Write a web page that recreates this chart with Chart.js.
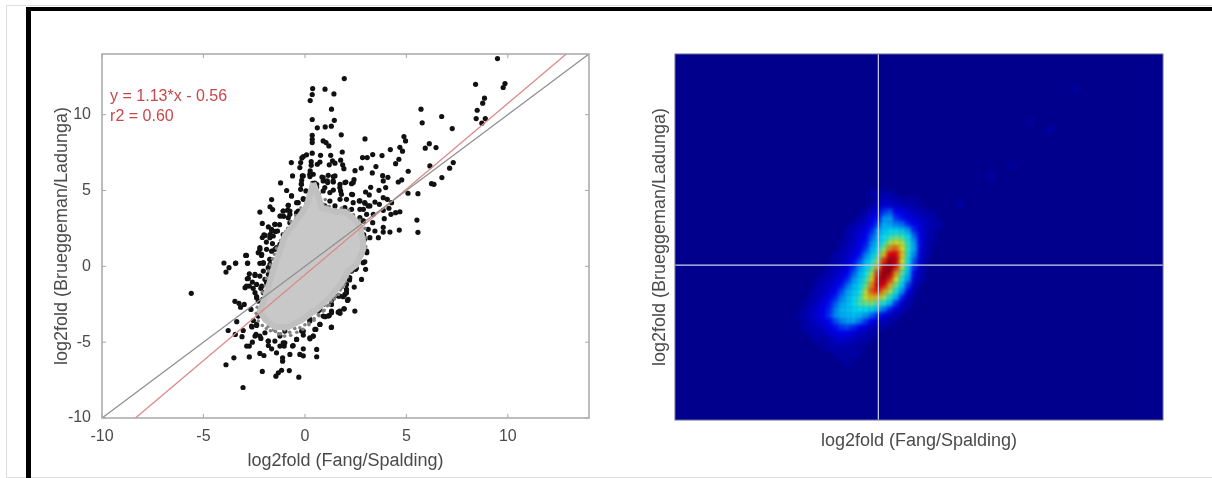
<!DOCTYPE html>
<html>
<head>
<meta charset="utf-8">
<title>log2fold comparison</title>
<script src="https://cdn.jsdelivr.net/npm/chart.js@4/dist/chart.umd.min.js"></script>
<style>
    html, body { margin: 0; padding: 0; background: #fff; width: 1212px; height: 478px; overflow: hidden; }
    canvas { position: absolute; filter: blur(0.7px); }
    #LeftPlot { left: 40px; top: 12px; }
    #RightPlot { left: 640px; top: 12px; }
    .rule { position: absolute; }
    #edgeTop { left: 6px; top: 5px; width: 1206px; height: 1px; background: #ddd; }
    #edgeLeft { left: 6px; top: 5px; width: 1px; height: 473px; background: #ddd; }
    #edgeBottom { left: 6px; top: 477px; width: 1206px; height: 1px; background: #ddd; }
    #barTop { left: 26px; top: 7px; width: 1186px; height: 4px; background: #000; }
    #barLeft { left: 26px; top: 7px; width: 5px; height: 471px; background: #000; }
</style>
</head>
<body>
<div class="rule" id="edgeTop"></div>
<div class="rule" id="edgeLeft"></div>
<div class="rule" id="edgeBottom"></div>
<div class="rule" id="barTop"></div>
<div class="rule" id="barLeft"></div>
<canvas id="LeftPlot" width="570" height="460"></canvas>
<canvas id="RightPlot" width="560" height="460"></canvas>
<script>
const tick_values = [-10, -5, 0, 5, 10];
const x_title = 'log2fold (Fang/Spalding)';
const y_title = 'log2fold (Brueggeman/Ladunga)';
const fit_labels = ['y = 1.13*x - 0.56', 'r2 = 0.60'];

const identity_x = [-10, 14];
const identity_y = [-10, 14];
const fit_x = [-8.35, 12.88];
const fit_y = [-10, 14];

// outliers
const outlier_x = [
    1.94, 0.38, 0.36, 0.26, 0.99, 1.43, 1.31, 0.36, 1.45, 0.61, 1.0, 1.30, 1.79, 0.36, 0.36, 0.36, 0.9, 1.04, 1.18, 1.84,
    0.36, 0.08, -0.08, -0.15, 0.77, 1.27, -0.67, -0.21, 0.74, 0.61, 0.31, 0.31, 1.36, 1.48, 1.2, 1.76, 1.86, 1.92, -0.25, 0.26,
    0.41, -0.61, -0.13, -0.16, 0.25, 0.84, 1.15, 1.4, -1.2, -0.18, 0.38, 0.58, 0.9, 1.1, 1.4, 1.73, 2.02, -0.9, -0.66, -0.21,
    0.05, 0.58, 0.9, 1.4, 1.76, -1.64, -1.72, -1.59, -2.22, -2.1, -1.2, -1.07, -0.82, -0.41, -0.08, -0.74, -0.33, 0.58, 0.9, 1.23,
    1.73, -1.48, -1.64, -2.02, -1.07, -0.74, -0.41, -1.72,
    9.49, 8.41, 9.86, 9.77, 8.85, 8.76, 8.49, 8.44, 8.89, 8.72, 5.72, 5.78, 6.74, 7.26, 2.96, 4.88, 4.96, 6.13, 5.93, 6.46,
    4.68, 4.81, 4.21, 3.8, 3.34, 2.84, 3.07, 4.63, 4.47, 3.5, 2.78, 2.47, 3.32, 5.09, 6.16, 7.31, 7.13, 6.75, 3.83, 4.09,
    2.42, 2.3, 3.86, 3.98, 3.24, 3.65, 4.6, 4.77, 6.24, 6.36, 5.08, 5.57, 2.35, 2.99, 3.17, 3.86, 4.06, 2.68, 2.96, 3.45,
    4.27, 3.67, 3.2, 4.14, 3.86, 4.68, 4.47, 4.24, 2.88, 3.37, 3.91, 5.52, 2.88, 3.34, 3.86, 4.19, 4.65, 5.57, 3.86, 3.45,
    3.2, 3.62,
    -5.6, -3.99, -3.74, -3.89, -3.41, -2.92, -2.82, -2.74, -2.46, -2.84, -2.59, -2.74, -2.95, -2.46, -2.38, -3.45, -3.25, -2.99, -3.17, -2.66,
    -2.22, -3.36, -2.54, -3.78, -3.04, -2.61, -3.43, -3.1, -2.38, -2.41, -2.17, -2.59, -2.74, -2.87, -1.8, -1.8, -1.64, -1.4, -1.23, -1.02,
    -1.07, -0.61, -0.41, -0.08, -0.25, -0.08, -0.74, -1.1, -1.1, -2.22, -2.02, -2.74, -3.5, -3.89, -2.1, -1.15, -1.31, -1.43, -0.77, -0.3,
    -3.05, 0.58, 0.58, 0.25, 0.41, 0.54, 0.74, 1.3, 0.99, 1.2, 1.64, 1.92, 1.73, 1.31, 2.1, 1.97, 2.05, 1.89, 1.64, 1.31,
    0.9, 0.74, 0.25, -0.16,
    -2.22, -2.13, -1.64, -1.72, -2.05, -2.22, -1.72, -2.05, -2.22, -1.8, -2.13, -1.89, -2.05, -1.72, -2.08, -2.3, -2.38, -1.4, -1.15,
    -2.1, -1.9, -1.6, -1.8, -1.45, -1.25, -1.05, -0.85, 2.4, 2.65, 2.9, 3.05, 2.95, 2.5, 2.2, 2.75,
    -0.66, -0.33, -0.08, -0.82, -1.07, -1.23, -0.74, -0.82, -0.41, -0.08, -1.48, -1.64, -1.35, -1.97, -1.73, -1.56, -1.23, -2.22, -1.89, -1.48,
    -2.3, -2.14, -1.73, -2.05, -1.4, -2.88, -2.83, -3.42, -1.81, 0.24, -0.08, -0.17, 0.9, 1.48, 1.12, 1.39, 0.98, 0.49, 0.66, 1.23,
    1.72, 1.97, 2.38, 2.3, 1.8, 2.05, 1.48, 1.97, 2.38, 2.71, 2.95, 3.12, 2.3, 2.71, 0.98, 0.49, 3.04, 2.71, 2.87, 3.12,
    2.95, 2.71, 3.04, 2.87, 2.46,
    -2.79, -2.46, -2.88, -2.55, -2.17, -1.97, -1.81, -2.05, -2.38, -2.3, -2.63, -2.38, -2.46, -2.22, -1.97, -1.81, -1.48, -1.23, -0.99, -0.99,
    -0.58, -0.41, -0.08, -0.08, 0.24, 0.41, 0.49, 0.74, 0.24, 0.9, 1.15, 1.31, 0.9, 0.66, 0.98, 1.39, 1.31, 1.72, 1.94, 1.72,
    2.05, 2.13, 2.43, 2.05, 2.21, 2.79, 2.46, 1.31, 2.3, 2.54, 2.99
];
const outlier_y = [
    12.38, 11.72, 11.33, 10.93, 11.68, 11.37, 10.36, 9.68, 9.63, 9.13, 9.19, 9.24, 8.67, 8.64, 8.38, 8.16, 8.27, 8.16, 7.94, 7.54,
    7.46, 7.35, 7.24, 7.15, 7.32, 7.32, 6.84, 6.84, 6.88, 6.73, 6.9, 6.66, 6.95, 6.8, 6.69, 7.0, 6.69, 6.44, 6.51, 6.29,
    6.07, 5.96, 5.96, 5.67, 5.92, 5.89, 6.0, 5.92, 5.5, 5.43, 5.47, 5.41, 5.63, 5.63, 5.56, 5.41, 5.56, 5.0, 4.64, 5.08,
    4.97, 5.19, 4.97, 5.03, 4.97, 4.4, 3.93, 3.74, 3.58, 2.83, 3.32, 3.65, 4.02, 4.2, 4.46, 3.43, 3.65, 4.42, 4.0, 4.3,
    4.42, 2.77, 2.33, 2.07, 2.1, 2.88, 3.1, 2.1,
    13.7, 12.0, 12.05, 11.79, 11.09, 10.76, 10.29, 9.74, 9.74, 9.44, 10.36, 9.46, 9.88, 9.08, 8.4, 8.56, 8.27, 8.09, 7.79, 7.83,
    7.85, 7.59, 7.7, 7.3, 7.37, 7.17, 7.17, 7.06, 6.77, 6.58, 6.47, 6.31, 6.16, 6.27, 6.62, 6.84, 6.47, 5.85, 5.98, 5.87,
    5.72, 5.45, 5.63, 5.19, 5.21, 5.01, 5.56, 5.7, 5.45, 5.41, 4.82, 4.79, 4.73, 4.9, 4.71, 4.53, 4.42, 4.31, 4.16, 4.24,
    4.2, 4.09, 3.98, 3.83, 3.69, 3.6, 3.54, 3.43, 3.76, 3.43, 3.14, 3.05, 3.0, 2.88, 2.57, 2.26, 2.39, 2.24, 2.26, 2.33,
    1.89, 1.89,
    -1.78, 0.22, -0.09, -0.38, 0.22, 0.72, 0.22, -0.49, -0.6, -0.82, -1.04, -1.3, -1.41, -1.74, -2.0, -2.31, -2.44, -2.51, -2.69, -2.84,
    -2.95, -3.65, -3.57, -4.23, -4.23, -4.0, -4.49, -4.64, -3.9, -4.49, -4.75, -5.0, -5.26, -5.26, -4.93, -5.22, -5.44, -5.7, -5.26, -5.26,
    -5.04, -5.26, -4.82, -5.44, -5.81, -5.9, -5.81, -6.03, -6.25, -5.74, -5.88, -5.97, -6.03, -6.49, -6.93, -6.85, -7.02, -7.24, -6.87, -7.31,
    -7.99, -5.48, -5.96, -4.78, -4.6, -4.16, -3.83, -4.03, -3.32, -3.24, -3.02, -2.8, -3.1, -2.95, -2.25, -1.85, -1.52, -2.0, -1.96, -2.25,
    -2.4, -2.84, -3.5, -4.27,
    1.23, 0.79, 1.0, 0.46, 0.2, 0.2, 0.13, -0.31, -0.64, -0.53, -1.3, -1.08, -1.74, -1.63, -2.18, -2.29, -1.19, 1.23, 1.45,
    1.9, 1.6, 1.5, 2.6, 2.3, 2.75, 3.3, 3.7, 1.3, 1.6, 2.1, 0.9, 0.3, -0.2, -0.9, 0.7,
    4.64, 4.2, 4.42, 4.02, 3.65, 3.32, 3.65, 3.21, 3.54, 3.43, 2.77, 2.44, 2.33, 2.04, 1.89, 2.0, 1.45, 1.12, 1.12, 1.12,
    0.9, 0.72, 0.46, 0.24, 0.46, 0.72, 0.2, 0.2, -0.09, 6.07, 5.96, 5.41, 5.85, 5.96, 5.52, 5.63, 5.19, 5.48, 4.75, 4.86,
    5.19, 5.52, 5.52, 4.75, 4.75, 4.42, 3.98, 3.87, 4.2, 4.31, 4.2, 3.98, 3.76, 3.76, 3.98, 3.98, 3.43, 3.21, 2.99, 2.44,
    1.78, 1.12, 1.01, 0.24, 0.13,
    -0.79, -0.53, -1.3, -1.45, -1.45, -0.86, -1.3, -2.29, -2.07, -3.28, -3.94, -3.83, -4.6, -4.6, -4.38, -4.93, -4.93, -4.6, -4.27, -5.04,
    -5.22, -4.82, -4.27, -4.53, -4.71, -4.6, -4.16, -3.83, -3.61, -3.28, -3.28, -3.06, -2.51, -2.95, -2.07, -2.07, -2.51, -2.95, -2.8, -1.96,
    -1.74, -2.18, -1.37, -1.19, -0.75, -0.86, -2.95, -4.0, -0.31, -0.09, -0.2
];

// speckled edge of the dense cloud
const rim_x = [
    -0.95, -0.7, -0.45, -0.2, 0.05, 0.25, 0.5, 0.75, 1.05, 1.35, 1.65, 1.95, 2.25, 2.55, 2.8, 2.95, 2.85, 2.65, 2.4, 2.25,
    2.15, 2.0, 1.85, 1.65, 1.45, 1.2, 0.95, 0.7, 0.45, 0.2, -0.1, -0.4, -0.7, -1.0, -1.3, -1.55, -1.8, -2.0, -2.15, -2.05,
    -1.9, -1.75, -1.65, -1.55, -1.45, -1.35, -1.25, -1.15, -1.05, -0.25, 0.15, 0.6, 1.0, 0.3, 0.42, 0.5,
    -1.6, -1.7, -1.8, -1.9, -1.95, -2.1, -2.15, -2.35, -2.4, -2.3, -2.1, -1.9, -1.7, -1.45, -1.2, -1.0, -0.75, -0.5, -0.25, 0,
    0.2, 0.45, 0.65, 0.9, 1.1, 1.3, 1.5, 1.75, 1.95, 2.1, 2.3, 2.55, 2.8, 3.0, 3.0, 2.95, 2.7, 2.4, 2.15, 1.8,
    1.5, 1.2, 0.9, 0.65, 0.55, 0.2, 0.05, -0.15, -0.4, -0.6, -0.85, -1.05, -1.2, -1.4, -1.5
];
const rim_y = [
    2.3, 2.95, 3.35, 3.85, 4.2, 4.5, 4.3, 4.1, 3.95, 3.7, 3.45, 3.2, 3.0, 2.85, 2.4, 1.7, 1.2, 0.8, 0.4, 0.0,
    -0.45, -1.0, -1.4, -1.85, -2.15, -2.55, -2.9, -3.25, -3.55, -3.85, -4.15, -4.35, -4.55, -4.6, -4.45, -4.2, -3.95, -3.5, -2.95, -2.5,
    -2.0, -1.55, -1.05, -0.6, -0.15, 0.35, 0.9, 1.35, 1.85, 3.05, 3.6, 4.9, 4.4, 5.1, 5.4, 4.75,
    0.5, 0.1, -0.3, -0.8, -1.3, -1.7, -2.2, -2.7, -3.1, -3.6, -3.9, -4.1, -4.25, -4.3, -4.45, -4.2, -4.35, -4.1, -4.05, -3.85,
    -3.75, -3.45, -3.2, -2.95, -2.6, -2.3, -1.95, -1.55, -1.2, -0.7, -0.3, 0.2, 0.75, 1.3, 1.9, 2.5, 3.05, 3.4, 3.7, 3.85,
    3.75, 3.95, 4.1, 4.4, 4.9, 4.7, 4.2, 3.75, 3.3, 2.9, 2.5, 2.15, 1.7, 1.2, 0.8
];

// outline of the solid grey cloud
const cloud_x = [0.41, 0.7, 0.82, 1.5, 1.97, 2.4, 2.71, 2.87, 2.87, 2.54, 2.13, 1.8, 1.23, 0.57, -0.17, -0.82, -1.48, -1.97, -2.22, -1.97, -1.73, -1.48, -1.32, -0.99, -0.49, 0.08, 0.41];
const cloud_y = [5.5, 4.5, 3.85, 3.6, 3.6, 3.15, 2.66, 1.6, 1.12, 0.1, -0.3, -1.1, -2.05, -2.85, -3.55, -4.0, -4.0, -3.5, -2.95, -2.07, -1.0, 0.13, 0.68, 2.0, 2.88, 3.98, 5.5];

// density image, levels 0-100 on the jet scale
const heat_x = [
    -4.5, -4.2, -3.9, -3.6, -3.3, -3.0, -2.7, -2.4, -2.1, -1.8, -1.5, -1.2, -0.9, -0.6, -0.3, 0,
    0.3, 0.6, 0.9, 1.2, 1.5, 1.8, 2.1, 2.4, 2.7, 3.0, 3.3, 3.6, 3.9, 4.2, 4.5
];
const heat_y = [
    4.8, 4.4, 4.0, 3.6, 3.2, 2.8, 2.4, 2.0, 1.6, 1.2, 0.8, 0.4, 0, -0.4, -0.8, -1.2, -1.6,
    -2.0, -2.4, -2.8, -3.2, -3.6, -4.0, -4.4, -4.8, -5.2, -5.6, -6.0, -6.4
];
// index into heat_x of the first cell in every row
const heat_start = [14, 15, 14, 13, 12, 11, 10, 10, 9, 9, 8, 8, 7, 6, 5, 5, 4, 4, 3, 3, 2, 3, 3, 4, 5, 6, 8, 9, 10];
const heat_levels = [
    [3, 3, 4, 3],
    [4, 5, 5, 4, 2, 3, 2],
    [3, 6, 8, 7, 6, 5, 4, 3, 2],
    [3, 6, 10, 18, 22, 12, 10, 7, 5, 4, 3, 2],
    [3, 5, 9, 14, 28, 30, 18, 14, 10, 8, 6, 5, 3],
    [3, 5, 7, 12, 20, 32, 30, 26, 24, 16, 11, 8, 5, 4, 3],
    [3, 5, 7, 10, 16, 30, 34, 36, 36, 34, 30, 16, 9, 5, 3],
    [3, 6, 8, 12, 22, 33, 37, 42, 46, 44, 37, 24, 10, 5, 3],
    [2, 4, 6, 10, 14, 27, 35, 40, 55, 60, 56, 40, 30, 10, 4, 2],
    [3, 5, 7, 11, 18, 31, 38, 52, 72, 76, 62, 42, 32, 9, 4],
    [3, 4, 6, 9, 14, 26, 34, 44, 66, 88, 88, 66, 40, 28, 8, 3],
    [3, 5, 7, 12, 20, 32, 38, 55, 82, 95, 92, 62, 38, 22, 7],
    [3, 4, 6, 9, 16, 28, 35, 44, 68, 92, 97, 86, 58, 36, 18, 5],
    [2, 4, 6, 8, 12, 22, 32, 38, 54, 82, 96, 94, 72, 48, 34, 12, 4],
    [2, 4, 5, 7, 10, 16, 28, 34, 42, 64, 88, 95, 84, 62, 40, 30, 8, 3],
    [3, 5, 6, 9, 14, 24, 32, 36, 48, 72, 90, 88, 70, 50, 36, 20, 5],
    [2, 4, 5, 8, 12, 20, 30, 34, 38, 58, 78, 84, 72, 56, 40, 30, 10, 3],
    [3, 5, 7, 10, 16, 26, 32, 36, 42, 60, 68, 66, 56, 42, 34, 16, 5],
    [2, 4, 6, 9, 14, 22, 30, 33, 37, 46, 50, 52, 46, 40, 34, 18, 7, 3],
    [3, 5, 7, 10, 16, 26, 33, 34, 36, 38, 38, 36, 34, 26, 16, 8, 4],
    [2, 4, 6, 8, 12, 18, 28, 32, 33, 34, 33, 30, 24, 16, 10, 6, 3],
    [3, 5, 7, 9, 13, 20, 27, 30, 31, 26, 18, 12, 8, 5, 3],
    [3, 4, 5, 7, 10, 14, 18, 20, 16, 11, 8, 5, 3],
    [3, 4, 5, 7, 9, 11, 10, 8, 6, 4, 3],
    [3, 3, 4, 6, 7, 7, 5, 4, 3],
    [2, 3, 4, 4, 4, 3, 2],
    [3, 3, 3, 3, 2],
    [2, 2, 2],
    [2]
];
const speck_x = [4.0, 5.5, 6.5, 7.5, 8.45, 9.7];
const speck_y = [4.1, 6.0, 6.7, 9.6, 9.0, 11.6];
const speck_levels = [3, 3, 2, 2, 3, 2];

const cross_x = [0, 0];
const cross_span_y = [-10, 14];
const cross_span_x = [-10, 14];
const cross_y = [0.15, 0.15];

const text_color = '#4a4a4a';
const font_family = '"Liberation Sans", Arial, sans-serif';

function toPoints(xs, ys) {
    return xs.map((x, i) => ({ x: x, y: ys[i] }));
}

// jet colormap, level 0-100
function jetColor(level) {
    const v = level / 100;
    const part = c => Math.round(255 * Math.max(0, Math.min(1, c)));
    const r = part(Math.min(4 * v - 1.5, -4 * v + 4.5));
    const g = part(Math.min(4 * v - 0.5, -4 * v + 3.5));
    const b = part(Math.min(4 * v + 0.55, -4 * v + 2.5));
    return `rgb(${r},${g},${b})`;
}

const heat_points = [];
const heat_colors = [];
heat_levels.forEach((row, r) => {
    row.forEach((level, c) => {
        heat_points.push({ x: heat_x[heat_start[r] + c], y: heat_y[r] });
        heat_colors.push(jetColor(level));
    });
});
speck_levels.forEach((level, i) => {
    heat_points.push({ x: speck_x[i], y: speck_y[i] });
    heat_colors.push(jetColor(level));
});

function baseScales(showTicks, xTickPad, yTickPad, yWidth, xHeight) {
    const axis = {
        type: 'linear',
        min: -10,
        max: 14,
        grid: { display: false },
        border: { display: false },
        afterBuildTicks: scale => { scale.ticks = tick_values.map(v => ({ value: v })); }
    };
    const ticks = { color: text_color, font: { family: font_family, size: 16 }, autoSkip: false, maxRotation: 0, display: showTicks };
    const title_font = { family: font_family, size: 18 };
    return {
        x: {
            ...axis,
            afterFit: scale => { scale.height = xHeight; },
            ticks: { ...ticks, padding: xTickPad },
            title: { display: true, text: x_title, color: text_color, font: title_font, padding: { top: 0, bottom: 0 } }
        },
        y: {
            ...axis,
            afterFit: scale => { scale.width = yWidth; },
            ticks: { ...ticks, padding: yTickPad },
            title: { display: true, text: y_title, color: text_color, font: title_font, padding: { top: 0, bottom: 0 } }
        }
    };
}

// box round the plot with matlab style inward ticks
const boxPlugin = {
    id: 'box',
    afterDatasetsDraw(chart, args, opts) {
        const { ctx, chartArea: a, scales } = chart;
        ctx.save();
        ctx.strokeStyle = opts.color;
        ctx.lineWidth = opts.width;
        ctx.strokeRect(a.left, a.top, a.width, a.height);
        if (opts.ticks) {
            ctx.lineWidth = 1;
            ctx.beginPath();
            tick_values.forEach(v => {
                const px = scales.x.getPixelForValue(v);
                const py = scales.y.getPixelForValue(v);
                ctx.moveTo(px, a.bottom); ctx.lineTo(px, a.bottom - 4);
                ctx.moveTo(px, a.top); ctx.lineTo(px, a.top + 4);
                ctx.moveTo(a.left, py); ctx.lineTo(a.left + 4, py);
                ctx.moveTo(a.right, py); ctx.lineTo(a.right - 4, py);
            });
            ctx.stroke();
        }
        ctx.restore();
    }
};

const fitTextPlugin = {
    id: 'fitText',
    afterDatasetsDraw(chart) {
        const { ctx, scales } = chart;
        ctx.save();
        ctx.fillStyle = '#c8474a';
        ctx.font = '16px ' + font_family;
        ctx.textBaseline = 'middle';
        ctx.fillText(fit_labels[0], scales.x.getPixelForValue(-9.6), scales.y.getPixelForValue(11.2));
        ctx.fillText(fit_labels[1], scales.x.getPixelForValue(-9.6), scales.y.getPixelForValue(9.85));
        ctx.restore();
    }
};

// dark blue background and a soft edge on the density cells
const heatPlugin = {
    id: 'heat',
    beforeDatasetsDraw(chart) {
        const { ctx, chartArea: a } = chart;
        ctx.save();
        ctx.fillStyle = jetColor(0);
        ctx.fillRect(a.left, a.top, a.width, a.height);
        ctx.restore();
    },
    beforeDatasetDraw(chart, args) {
        if (args.index === 2) chart.ctx.filter = 'blur(2px)';
    },
    afterDatasetDraw(chart, args) {
        if (args.index === 2) chart.ctx.filter = 'none';
    }
};

const commonOptions = {
    responsive: false,
    animation: false,
    events: [],
    plugins: { legend: { display: false }, tooltip: { enabled: false } }
};

const configLeft = {
    type: 'scatter',
    data: {
        datasets: [
            { label: 'y = x', data: toPoints(identity_x, identity_y), showLine: true, borderColor: '#8f8f8f', borderWidth: 1.3, pointRadius: 0, order: 0 },
            { label: 'fit', data: toPoints(fit_x, fit_y), showLine: true, borderColor: '#dc8a8a', borderWidth: 1.3, pointRadius: 0, order: 0 },
            { label: 'cloud', data: toPoints(cloud_x, cloud_y), showLine: true, fill: 'shape', borderWidth: 6, borderColor: '#c0c0c0', backgroundColor: '#c8c8c8', pointRadius: 0, order: 1 },
            { label: 'rim', data: toPoints(rim_x, rim_y), backgroundColor: '#808080', pointRadius: 1.8, pointBorderWidth: 0, order: 2 },
            { label: 'outliers', data: toPoints(outlier_x, outlier_y), backgroundColor: '#111', pointRadius: 2.6, pointBorderWidth: 0, order: 3 }
        ]
    },
    options: {
        ...commonOptions,
        layout: { padding: { left: 11, right: 21, top: 42, bottom: 0 } },
        scales: baseScales(true, 1, 3, 51, 54),
        plugins: { ...commonOptions.plugins, box: { color: '#a8a8a8', width: 1.5, ticks: true } }
    },
    plugins: [boxPlugin, fitTextPlugin]
};

const configRight = {
    type: 'scatter',
    data: {
        datasets: [
            { label: 'x = 0', data: toPoints(cross_x, cross_span_y), showLine: true, borderColor: '#c9d2e6', borderWidth: 1.2, pointRadius: 0 },
            { label: 'y = 0', data: toPoints(cross_span_x, cross_y), showLine: true, borderColor: '#c9d2e6', borderWidth: 1.2, pointRadius: 0 },
            { label: 'density', data: heat_points, backgroundColor: heat_colors, pointStyle: 'rect', pointRadius: 5, pointBorderWidth: 0 }
        ]
    },
    options: {
        ...commonOptions,
        layout: { padding: { left: 9, right: 37, top: 42, bottom: 20 } },
        scales: baseScales(false, 0, 0, 26, 32),
        plugins: { ...commonOptions.plugins, box: { color: '#6a6a9a', width: 1, ticks: false } }
    },
    plugins: [heatPlugin, boxPlugin]
};

const LeftPlot = new Chart(document.getElementById('LeftPlot'), configLeft);
const RightPlot = new Chart(document.getElementById('RightPlot'), configRight);
</script>
</body>
</html>
